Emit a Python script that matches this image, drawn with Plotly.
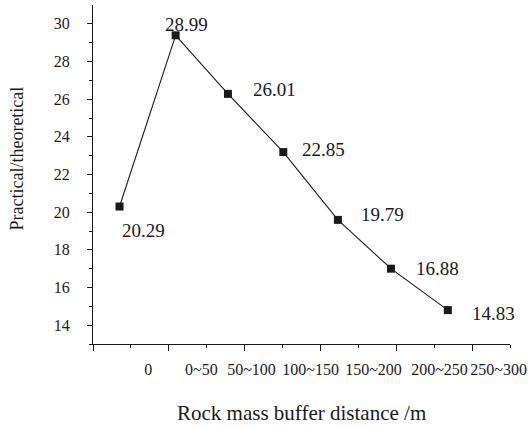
import plotly.graph_objects as go

# Data
x_pos = [0.35, 1.09, 1.78, 2.51, 3.23, 3.93, 4.68]
values = [20.30, 29.39, 26.28, 23.19, 19.59, 17.00, 14.80]
point_labels = ["20.29", "28.99", "26.01", "22.85", "19.79", "16.88", "14.83"]
cat_pos = [0.73, 1.43, 2.09, 2.87, 3.70, 4.57, 5.35]
cat_labels = ["0", "0~50", "50~100", "100~150", "150~200", "200~250", "250~300"]
x_title = "Rock mass buffer distance /m"
y_title = "Practical/theoretical"

# label offsets (style)
lab_dx = [0, 11, 23, 17, 21, 23, 22]
lab_dy = [-24, 11, 4, 3, 5, 0, -3]
lab_anchor = ["left", "center", "left", "left", "left", "left", "left"]

FONT = "'Liberation Serif', 'Times New Roman', serif"
INK = "#1a1a1a"

fig = go.Figure()
fig.add_trace(go.Scatter(
    x=x_pos, y=values, mode="lines+markers",
    line=dict(color=INK, width=1.1),
    marker=dict(symbol="square", size=8, color=INK),
    showlegend=False, hoverinfo="skip"))
# invisible trace to activate xaxis2 for category labels
fig.add_trace(go.Scatter(x=[None], y=[None], xaxis="x2", yaxis="y",
                         showlegend=False, hoverinfo="skip"))

for xv, yv, t, dx, dy, an in zip(x_pos, values, point_labels, lab_dx, lab_dy, lab_anchor):
    fig.add_annotation(x=xv, y=yv, text=t, showarrow=False,
                       xanchor=an, yanchor="middle", xshift=dx, yshift=dy,
                       font=dict(family=FONT, size=19, color=INK))

fig.add_annotation(xref="paper", yref="paper", x=0.5, y=0, yshift=-69,
                   text=x_title, showarrow=False, yanchor="middle",
                   font=dict(family=FONT, size=21, color=INK))
fig.add_annotation(xref="paper", yref="paper", x=0, xshift=-76, y=0.547,
                   text=y_title, showarrow=False, textangle=-90,
                   xanchor="center", yanchor="middle",
                   font=dict(family=FONT, size=18, color=INK))

fig.update_layout(
    width=532, height=428,
    margin=dict(l=93, r=19, t=5, b=84),
    paper_bgcolor="white", plot_bgcolor="white",
    font=dict(family=FONT, color=INK),
    xaxis=dict(range=[0, 5.5], showgrid=False, zeroline=False,
               showline=True, linecolor=INK, linewidth=1.2,
               tickmode="array", tickvals=[0, 1, 2, 3, 4, 5],
               showticklabels=False, ticks="outside", ticklen=6,
               tickcolor=INK, tickwidth=1.2,
               minor=dict(tickmode="array", tickvals=[0.5, 1.5, 2.5, 3.5, 4.5, 5.5],
                          ticks="outside", ticklen=3, tickcolor=INK, tickwidth=1)),
    xaxis2=dict(range=[0, 5.5], overlaying="x", anchor="y", side="bottom",
                showgrid=False, zeroline=False, showline=False,
                tickmode="array", tickvals=cat_pos, ticktext=cat_labels,
                ticks="", ticklabelstandoff=14,
                tickfont=dict(family=FONT, size=16, color=INK)),
    yaxis=dict(range=[13, 31], showgrid=False, zeroline=False,
               showline=True, linecolor=INK, linewidth=1.2,
               tickmode="array", tickvals=[14, 16, 18, 20, 22, 24, 26, 28, 30],
               ticks="outside", ticklen=5, tickcolor=INK, tickwidth=1.2,
               ticklabelstandoff=14,
               tickfont=dict(family=FONT, size=16, color=INK),
               minor=dict(tickmode="array", tickvals=[13, 15, 17, 19, 21, 23, 25, 27, 29],
                          ticks="outside", ticklen=3, tickcolor=INK, tickwidth=1)),
)

fig.write_html("out.html", config={"displayModeBar": False},
               post_script="document.body.style.margin='0';")
